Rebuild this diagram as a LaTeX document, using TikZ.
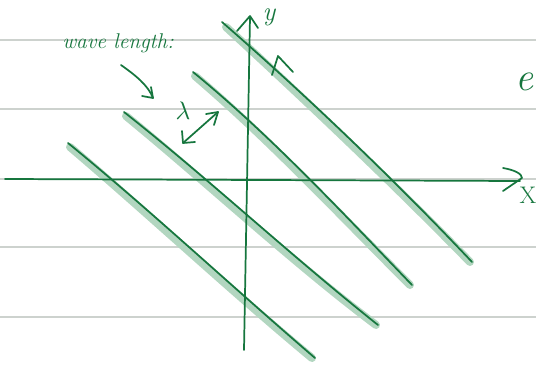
\documentclass[tikz,border=0pt]{standalone}
\usetikzlibrary{arrows.meta}
\definecolor{ink}{RGB}{22,118,62}
\definecolor{shade}{RGB}{178,214,192}
\definecolor{rule}{RGB}{205,210,206}
\tikzset{
  ruled/.style={draw=rule, line width=0.8pt},
  pen/.style={draw=ink, line width=1.3pt, line cap=round, line join=round},
  glow/.style={draw=shade, line width=6pt, line cap=round},
  hand/.style={text=ink, font=\itshape},
}
\begin{document}
\begin{tikzpicture}[x=0.75pt,y=-0.75pt]
\useasboundingbox (0,0) rectangle (536,365);
\clip (0,0) rectangle (536,365);
% ruled paper
\foreach \yy in {40,109,179,247,317} \draw[ruled] (0,\yy) -- (536,\yy);
% shaded wave fronts
\draw[glow] (70,147) .. controls (150,215) and (230,290) .. (312,358);
\draw[glow] (126,116) .. controls (210,185) and (290,260) .. (376,325);
\draw[glow] (195,76) .. controls (270,140) and (340,215) .. (410,285);
\draw[glow] (226,27) .. controls (300,95) and (390,180) .. (470,262);
% wave fronts
\draw[pen] (68,143) .. controls (150,210) and (230,285) .. (315,358);
\draw[pen] (124,112) .. controls (210,180) and (290,255) .. (378,325);
\draw[pen] (193,72) .. controls (270,135) and (340,210) .. (412,285);
\draw[pen] (222,22) .. controls (300,90) and (390,175) .. (472,262);
% axes
\coordinate (xs) at (5,179);
\coordinate (xe) at (520,181);
\coordinate (ys) at (244,350);
\coordinate (ye) at (250,17);
\draw[pen] (xs) -- (xe);
\draw[pen] (503,168) .. controls (515,170) and (522,174) .. (522,178) -- (503,191);
\draw[pen] (ys) -- (ye);
\draw[pen] (237,31) -- (250,16) -- (258,28);
\node[hand, font=\fontsize{20}{22}\selectfont\itshape, inner sep=0pt] (ylab) at (269,17) {y};
\node[hand, font=\fontsize{18}{20}\selectfont, inner sep=0pt] (xlab) at (528,195) {X};
% tick mark
\draw[pen] (272,75) -- (278,56) -- (293,72);
% label wave length
\node[hand, font=\fontsize{16}{18}\selectfont\itshape] (wl) at (118,43) {wave length:};
\coordinate (as) at (121,65);
\coordinate (ae) at (153,98);
\draw[pen] (as) .. controls (135,75) and (148,85) .. (ae);
\draw[pen] (142,96) -- (ae) -- (151,87);
% lambda with double arrow
\node[text=ink, inner sep=0pt] (lam) at (183,111) {\scalebox{1.9}{$\lambda$}};
\coordinate (da) at (183,143);
\coordinate (db) at (218,112);
\draw[pen] (da) -- (db);
\draw[pen] (206,114) -- (db) -- (214,125);
\draw[pen] (182,131) -- (da) -- (195,142);
% partial letter at edge
\node[hand, font=\fontsize{30}{32}\selectfont\itshape, anchor=east, inner sep=0pt] (ee) at (534,82) {e};
\end{tikzpicture}
\end{document}
